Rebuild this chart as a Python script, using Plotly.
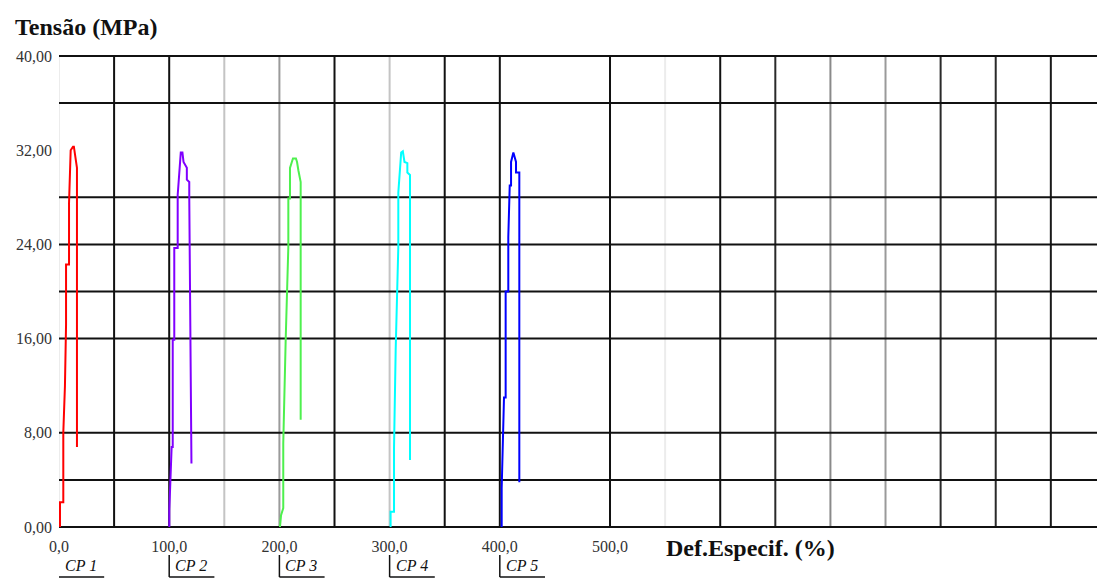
import plotly.graph_objects as go

# ---------------- data ----------------
cp1_x = [0.9, 0.9, 3.9, 3.9, 5.4, 6.4, 6.4, 9.1, 9.1, 10.6, 10.6, 12.7, 13.5, 16.3, 16.3]
cp1_y = [0.0, 2.1, 2.1, 8.0, 12.0, 17.2, 22.3, 22.3, 27.5, 30.9, 32.0, 32.3, 32.3, 30.5, 6.8]

cp2_x = [100.1, 100.1, 102.2, 103.2, 103.2, 104.6, 104.6, 107.7, 107.7, 110.5, 112.0, 113.0, 116.0, 116.0, 118.2, 118.2, 120.2]
cp2_y = [0.0, 1.4, 6.8, 6.8, 15.9, 15.9, 23.7, 23.7, 28.2, 31.8, 31.8, 31.0, 30.5, 29.5, 29.3, 28.0, 5.4]

cp3_x = [200.5, 201.5, 203.5, 203.5, 205.7, 208.1, 208.1, 209.6, 209.6, 212.3, 215.0, 216.0, 217.2, 219.3, 219.3]
cp3_y = [0.0, 1.0, 1.6, 7.1, 15.9, 23.8, 27.9, 27.9, 30.5, 31.3, 31.3, 31.0, 30.3, 29.3, 9.1]

cp4_x = [300.9, 300.9, 304.0, 304.0, 305.5, 307.9, 307.9, 310.5, 312.0, 313.5, 316.1, 316.1, 318.5, 318.5]
cp4_y = [0.0, 1.3, 1.3, 6.7, 15.0, 23.8, 28.4, 31.8, 31.9, 31.0, 30.9, 30.1, 29.9, 5.7]

cp5_x = [401.7, 401.7, 403.8, 405.3, 405.3, 407.7, 407.7, 409.0, 410.2, 410.2, 412.3, 413.0, 414.7, 414.7, 417.7, 417.7]
cp5_y = [0.0, 3.3, 11.0, 11.0, 20.0, 20.0, 24.6, 29.0, 29.0, 31.0, 31.8, 31.5, 31.0, 30.1, 30.1, 3.8]

series_names = ["CP 1", "CP 2", "CP 3", "CP 4", "CP 5"]
series_x = [cp1_x, cp2_x, cp3_x, cp4_x, cp5_x]
series_y = [cp1_y, cp2_y, cp3_y, cp4_y, cp5_y]
label_pos = [0, 100, 200, 300, 400]

x_tickvals = [0, 100, 200, 300, 400, 500]
x_ticktext = ["0,0", "100,0", "200,0", "300,0", "400,0", "500,0"]
y_tickvals = [0, 8, 16, 24, 32, 40]
y_ticktext = ["0,00", "8,00", "16,00", "24,00", "32,00", "40,00"]

# ---------------- style ----------------
colors = ["#ff0000", "#8000ff", "#4ef04e", "#00ffff", "#0000ff"]
XMAX = 941.9
YMAX = 40
vgrid = [(0, "#ececec"), (50, "#111111"), (100, "#111111"), (150, "#c4c4c4"),
         (200, "#9a9a9a"), (250, "#111111"), (300, "#c4c4c4"), (350, "#111111"),
         (400, "#111111"), (500, "#111111"), (550, "#ececec"), (600, "#111111"),
         (650, "#2a2a2a"), (700, "#8a8a8a"), (750, "#9a9a9a"), (800, "#2a2a2a"),
         (850, "#2a2a2a"), (900, "#1a1a1a")]
hgrid = [0, 4, 8, 16, 20, 24, 28, 36, 40]
SERIF = "Liberation Serif, Times New Roman, serif"

fig = go.Figure()
for name, xs, ys, c in zip(series_names, series_x, series_y, colors):
    fig.add_trace(go.Scatter(x=xs, y=ys, mode="lines", name=name,
                             line=dict(color=c, width=2), showlegend=False))

shapes = []
for v, col in vgrid:
    shapes.append(dict(type="line", xref="x", yref="paper", x0=v, x1=v, y0=0, y1=1,
                       line=dict(color=col, width=2), layer="below"))
for h in hgrid:
    shapes.append(dict(type="line", xref="paper", yref="paper", x0=0, x1=1,
                       y0=h / YMAX, y1=h / YMAX,
                       line=dict(color="#111111", width=2), layer="below"))

annotations = [
    dict(text="<b>Tensão (MPa)</b>", xref="paper", yref="paper", x=0, y=1,
         xanchor="left", yanchor="middle", xshift=-46, yshift=29, showarrow=False,
         font=dict(family=SERIF, size=24, color="#111")),
    dict(text="<b>Def.Especif. (%)</b>", xref="x", yref="paper", x=549, y=0,
         xanchor="left", yanchor="middle", yshift=-21, showarrow=False,
         font=dict(family=SERIF, size=24, color="#111")),
]
px_h = 471.0
for name, p in zip(series_names, label_pos):
    annotations.append(dict(text="<i>" + name + "</i>", xref="x", yref="paper", x=p, y=0,
                            xanchor="left", yanchor="middle", xshift=4, yshift=-38,
                            showarrow=False, font=dict(family=SERIF, size=16, color="#111")))
    shapes.append(dict(type="line", xref="x", yref="paper", x0=p, x1=p + 41,
                       y0=-50 / px_h, y1=-50 / px_h, line=dict(color="#111", width=1.5)))
    if p > 0:
        shapes.append(dict(type="line", xref="x", yref="paper", x0=p, x1=p,
                           y0=-28 / px_h, y1=-50 / px_h, line=dict(color="#111", width=1.5)))

fig.update_layout(
    width=1097, height=579,
    margin=dict(l=59, r=0, t=56, b=52),
    paper_bgcolor="white", plot_bgcolor="white",
    separators=",.",
    shapes=shapes, annotations=annotations,
    xaxis=dict(range=[0, XMAX], showgrid=False, zeroline=False, showline=False,
               tickvals=x_tickvals, ticktext=x_ticktext, ticks="",
               ticklabelstandoff=8,
               tickfont=dict(family=SERIF, size=16, color="#333")),
    yaxis=dict(range=[0, YMAX], showgrid=False, zeroline=False, showline=False,
               tickvals=y_tickvals, ticktext=y_ticktext, ticks="",
               ticklabelstandoff=6,
               tickfont=dict(family=SERIF, size=16, color="#333")),
)

fig.write_html("out.html")
